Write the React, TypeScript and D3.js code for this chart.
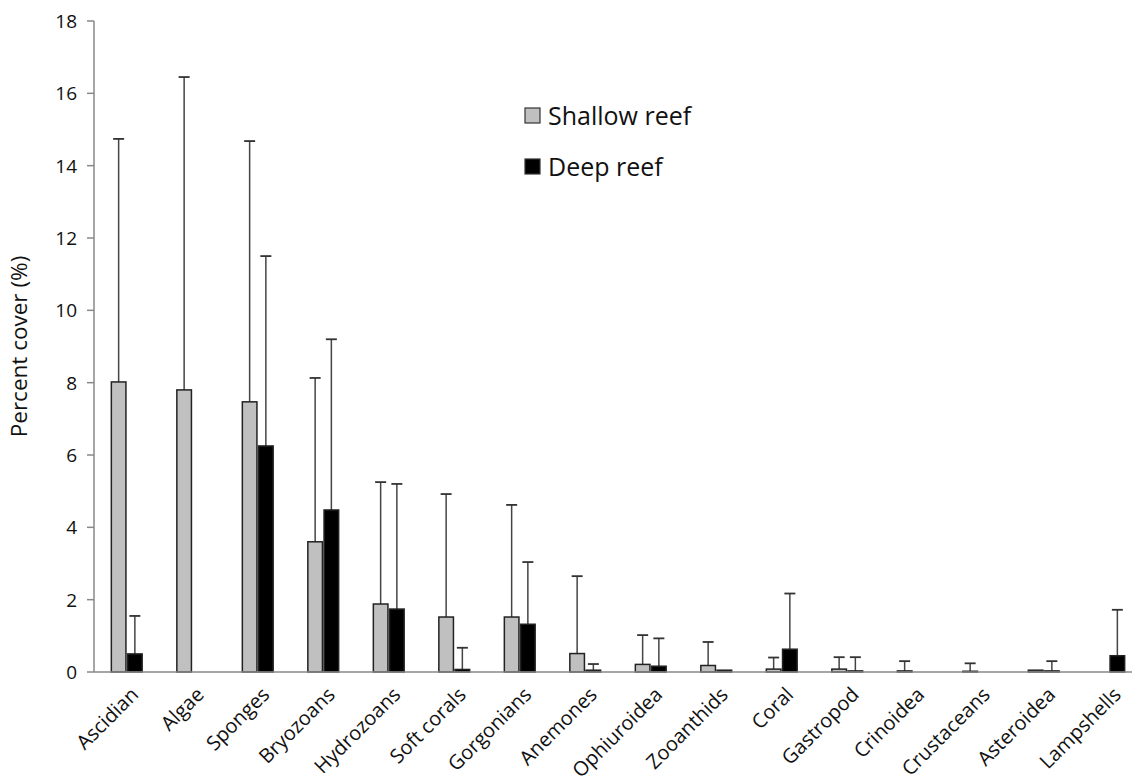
import React, { useEffect, useRef } from 'react';
import * as d3 from 'd3';

const categories = [
  'Ascidian', 'Algae', 'Sponges', 'Bryozoans', 'Hydrozoans', 'Soft corals', 'Gorgonians', 'Anemones',
  'Ophiuroidea', 'Zooanthids', 'Coral', 'Gastropod', 'Crinoidea', 'Crustaceans', 'Asteroidea', 'Lampshells',
];

const shallowMean = [8.02, 7.8, 7.47, 3.6, 1.88, 1.52, 1.52, 0.51, 0.21, 0.18, 0.08, 0.08, 0.03, 0.02, 0.05, 0];
const shallowUpper = [14.74, 16.45, 14.68, 8.13, 5.25, 4.92, 4.62, 2.65, 1.02, 0.83, 0.4, 0.41, 0.3, 0.24, 0.05, 0];
const deepMean = [0.5, 0, 6.25, 4.48, 1.74, 0.07, 1.32, 0.05, 0.16, 0.05, 0.63, 0.03, 0, 0, 0.03, 0.45];
const deepUpper = [1.55, 0, 11.5, 9.2, 5.2, 0.67, 3.04, 0.22, 0.93, 0.05, 2.17, 0.41, 0, 0, 0.3, 1.72];

const seriesNames = ['Shallow reef', 'Deep reef'];
const seriesColors = ['#c0c0c0', '#000000'];
const yTicks = [0, 2, 4, 6, 8, 10, 12, 14, 16, 18];

const W = 1132;
const H = 779;
const FONT = '"Open Sans", Lato, sans-serif';

export default function App() {
  const ref = useRef<SVGSVGElement>(null);

  useEffect(() => {
    const svg = d3.select(ref.current);
    svg.selectAll('*').remove();

    const left = 94;
    const top = 21;
    const bottom = 672;
    const bandW = 65.5;

    const x = d3.scaleBand<string>()
      .domain(categories)
      .range([left, left + bandW * categories.length])
      .paddingInner(0.48)
      .paddingOuter(0.24);
    const xs = d3.scaleBand<number>().domain([0, 1]).range([0, x.bandwidth()]).padding(0.1);
    const y = d3.scaleLinear().domain([0, 18]).range([bottom, top]);

    const rows = categories.map((c, i) => ({
      c,
      vals: [
        { s: 0, m: shallowMean[i], u: shallowUpper[i] },
        { s: 1, m: deepMean[i], u: deepUpper[i] },
      ],
    }));

    const g = svg.append('g');

    // error bars (drawn behind bars)
    rows.forEach(r => {
      r.vals.forEach(v => {
        if (v.u <= v.m) return;
        const cx = (x(r.c) as number) + (xs(v.s) as number) + xs.bandwidth() / 2;
        g.append('line')
          .attr('x1', cx).attr('x2', cx)
          .attr('y1', y(v.m)).attr('y2', y(v.u))
          .attr('stroke', '#444').attr('stroke-width', 1.5);
        g.append('line')
          .attr('x1', cx - 5.5).attr('x2', cx + 5.5)
          .attr('y1', y(v.u)).attr('y2', y(v.u))
          .attr('stroke', '#333').attr('stroke-width', 1.8);
      });
    });

    // bars
    rows.forEach(r => {
      r.vals.forEach(v => {
        if (v.m <= 0) return;
        g.append('rect')
          .attr('x', (x(r.c) as number) + (xs(v.s) as number))
          .attr('y', y(v.m))
          .attr('width', xs.bandwidth())
          .attr('height', bottom - y(v.m))
          .attr('fill', seriesColors[v.s])
          .attr('stroke', '#222')
          .attr('stroke-width', 1.5);
      });
    });

    // axes
    svg.append('line')
      .attr('x1', left).attr('x2', W).attr('y1', bottom).attr('y2', bottom)
      .attr('stroke', '#888').attr('stroke-width', 1.5);
    svg.append('line')
      .attr('x1', left).attr('x2', left).attr('y1', top).attr('y2', bottom)
      .attr('stroke', '#888').attr('stroke-width', 1.5);

    yTicks.forEach(t => {
      svg.append('line')
        .attr('x1', left - 7).attr('x2', left).attr('y1', y(t)).attr('y2', y(t))
        .attr('stroke', '#888').attr('stroke-width', 1.5);
      svg.append('text')
        .attr('x', left - 17).attr('y', y(t)).attr('dy', '0.36em')
        .attr('text-anchor', 'end')
        .attr('font-family', FONT).attr('font-size', 19).attr('fill', '#111')
        .text(t);
    });

    // category labels
    categories.forEach(c => {
      const cx = (x(c) as number) + x.bandwidth() / 2;
      svg.append('text')
        .attr('transform', `translate(${cx + 3},${bottom + 14}) rotate(-45)`)
        .attr('text-anchor', 'end')
        .attr('dy', '0.7em')
        .attr('font-family', FONT).attr('font-size', 20).attr('fill', '#111')
        .text(c);
    });

    svg.append('text')
      .attr('transform', `translate(27,${(top + bottom) / 2}) rotate(-90)`)
      .attr('text-anchor', 'middle')
      .attr('font-family', FONT).attr('font-size', 22.5).attr('fill', '#111')
      .text('Percent cover (%)');

    // legend
    seriesNames.forEach((n, i) => {
      const ly = 108 + i * 51;
      svg.append('rect')
        .attr('x', 525).attr('y', ly).attr('width', 15).attr('height', 15)
        .attr('fill', seriesColors[i]).attr('stroke', '#333').attr('stroke-width', 1.2);
      svg.append('text')
        .attr('x', 548).attr('y', ly + 7.5).attr('dy', '0.36em')
        .attr('font-family', FONT).attr('font-size', 25).attr('fill', '#111')
        .text(n);
    });
  }, []);

  return (
    <div style={{ position: 'absolute', left: 0, top: 0, width: W, height: H, background: '#fff' }}>
      <svg ref={ref} width={W} height={H} />
    </div>
  );
}
